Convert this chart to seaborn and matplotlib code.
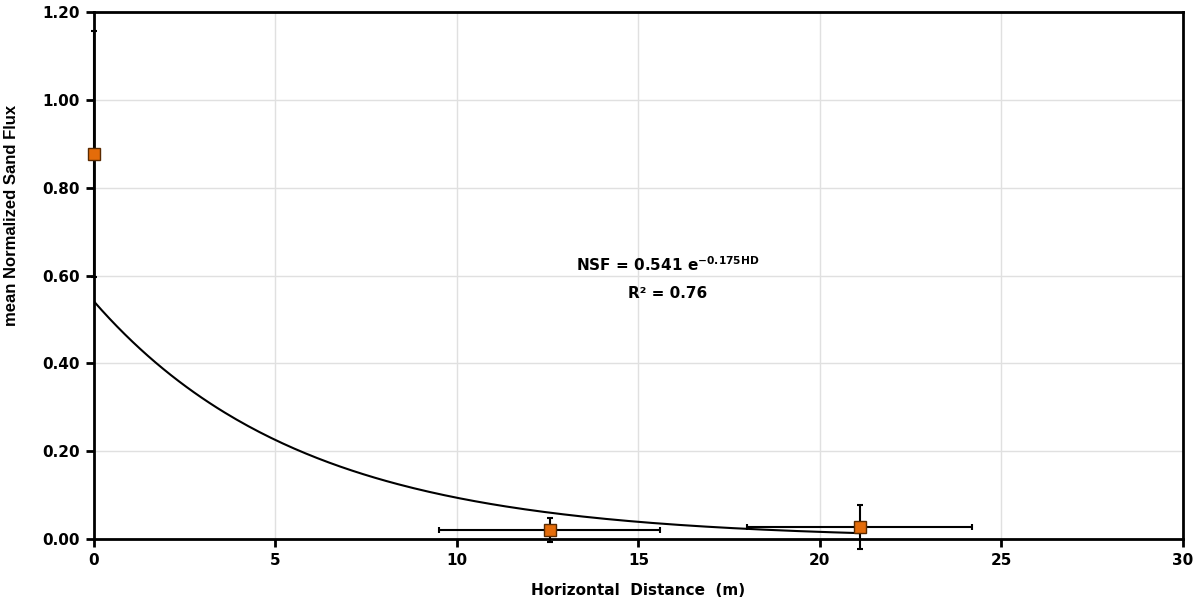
import matplotlib
matplotlib.use('Agg')
import matplotlib.pyplot as plt
import numpy as np
import seaborn as sns

# measured points
hd = [0.0, 12.55, 21.1]
nsf = [0.877, 0.020, 0.028]
hd_err = [0.0, 3.05, 3.1]
nsf_err = [0.28, 0.027, 0.05]

# exponential fit NSF = a * exp(b * HD)
fit_a = 0.541
fit_b = -0.175
fit_range = [0.0, 21.1]

sns.set_theme(style='whitegrid')
plt.rcParams['font.family'] = ['DejaVu Sans']

fig = plt.figure(figsize=(11.96, 6.05), dpi=100)
ax = fig.add_axes([0.0786, 0.109, 0.9104, 0.871])

xx = np.linspace(fit_range[0], fit_range[1], 200)
sns.lineplot(x=xx, y=fit_a * np.exp(fit_b * xx), ax=ax, color='black', lw=1.5)

ax.errorbar(hd, nsf, xerr=hd_err, yerr=nsf_err, fmt='none', ecolor='black',
            elinewidth=1.5, capsize=2.5, capthick=1.5, clip_on=False, zorder=3)
ax.plot(hd, nsf, ls='none', marker='s', markersize=9, markerfacecolor='#E46C0A',
        markeredgecolor='#5a2a00', markeredgewidth=1, clip_on=False, zorder=4)

ax.set_xlim(0, 30)
ax.set_ylim(0, 1.2)
ax.set_xticks(range(0, 31, 5))
ax.set_yticks(np.arange(0, 1.21, 0.2))
ax.set_yticklabels(['%.2f' % v for v in np.arange(0, 1.21, 0.2)])
for lab in ax.get_xticklabels() + ax.get_yticklabels():
    lab.set_fontweight('bold')
    lab.set_fontsize(11)
    lab.set_color('black')

ax.grid(True, color='#e0e0e0', lw=1)
ax.set_facecolor('white')
for s in ax.spines.values():
    s.set_color('black')
    s.set_linewidth(2)
ax.tick_params(axis='both', direction='out', length=6, width=2, color='black',
               bottom=True, left=True, pad=4)

ax.set_xlabel('Horizontal  Distance  (m)', fontsize=11, fontweight='bold',
              labelpad=11, color='black')
ax.set_ylabel('mean Normalized Sand Flux', fontsize=12, fontweight='bold',
              family='Liberation Sans', color='black')
ax.yaxis.set_label_coords(-0.069, 0.615)

ax.text(15.8, 0.625, r'NSF = 0.541 e$^{\mathbf{-0.175HD}}$', ha='center', va='center',
        fontsize=11, fontweight='bold', color='black')
ax.text(15.8, 0.56, 'R² = 0.76', ha='center', va='center', fontsize=11,
        fontweight='bold', color='black')

fig.savefig('out.png', dpi=100)
